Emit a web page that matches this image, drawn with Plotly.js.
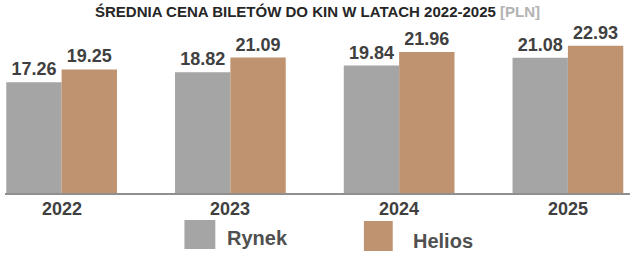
<!DOCTYPE html>
<html>
<head>
<meta charset="utf-8">
<script src="https://cdn.plot.ly/plotly-3.0.1.min.js"></script>
<style>html,body{margin:0;padding:0;background:#fff;}#chart{width:635px;height:255px;}</style>
</head>
<body>
<div id="chart"></div>
<script>
const years = ['2022', '2023', '2024', '2025'];
const rynek = [17.26, 18.82, 19.84, 21.08];
const helios = [19.25, 21.09, 21.96, 22.93];
const seriesNames = ['Rynek', 'Helios'];
const titleMain = 'ŚREDNIA CENA BILETÓW DO KIN W LATACH 2022-2025';
const titleUnit = '[PLN]';

const colors = ['#a5a5a5', '#bf936f'];
const font = 'Liberation Sans, Arial, sans-serif';
const textColor = '#404040';

const fmt = v => v.toFixed(2);

const traces = [rynek, helios].map((vals, i) => ({
  type: 'bar',
  name: seriesNames[i],
  x: years,
  y: vals,
  marker: {color: colors[i], line: {width: 0}},
  text: vals.map(fmt),
  textposition: 'outside',
  textfont: {family: font, size: 18, color: textColor, weight: 'bold'},
  constraintext: 'none',
  cliponaxis: false,
  hoverinfo: 'skip'
}));

// custom legend (big squares)
const legendBoxes = [
  {x0: 0.2871, x1: 0.3365, y0: -0.366, y1: -0.1765},
  {x0: 0.5742, x1: 0.6204, y0: -0.379, y1: -0.183}
];
const legendText = [
  {x: 0.3525, y: -0.294},
  {x: 0.649, y: -0.3137}
];

const shapes = legendBoxes.map((b, i) => ({
  type: 'rect', xref: 'paper', yref: 'paper',
  x0: b.x0, x1: b.x1, y0: b.y0, y1: b.y1,
  fillcolor: colors[i], line: {width: 0}
}));
const annotations = legendText.map((t, i) => ({
  xref: 'paper', yref: 'paper', x: t.x, y: t.y,
  xanchor: 'left', yanchor: 'middle', showarrow: false,
  text: '<b>' + seriesNames[i] + '</b>',
  font: {family: font, size: 20, color: '#505050'}
}));
// category labels (placed just under the axis line); category axis uses serial index
years.forEach((yr, i) => annotations.push({
  xref: 'x', yref: 'paper', x: i, y: 0,
  xanchor: 'center', yanchor: 'middle', yshift: -15.5, showarrow: false,
  text: '<b>' + yr + '</b>',
  font: {family: font, size: 18, color: textColor}
}));

const layout = {
  width: 635, height: 255,
  margin: {l: 5, r: 5, t: 40, b: 62, pad: 0},
  paper_bgcolor: '#ffffff', plot_bgcolor: '#ffffff',
  showlegend: false,
  barmode: 'group',
  bargap: 0.344, bargroupgap: 0,
  title: {
    text: '<b>' + titleMain + ' <span style="color:#b3b3b3">' + titleUnit + '</span></b>',
    font: {family: font, size: 15, color: '#262626'},
    x: 0.5, xref: 'paper', xanchor: 'center',
    y: 1 - 12 / 255, yref: 'container', yanchor: 'middle'
  },
  xaxis: {
    type: 'category',
    range: [-0.3355, 3.368],
    showline: true, linecolor: '#8f8f8f', linewidth: 1.5,
    showgrid: false, zeroline: false, ticks: '', showticklabels: false,
    fixedrange: true
  },
  yaxis: {
    range: [0, 23.83],
    visible: false, showgrid: false, zeroline: false,
    fixedrange: true
  },
  shapes: shapes,
  annotations: annotations
};

Plotly.newPlot('chart', traces, layout, {displayModeBar: false, staticPlot: true});
</script>
</body>
</html>
